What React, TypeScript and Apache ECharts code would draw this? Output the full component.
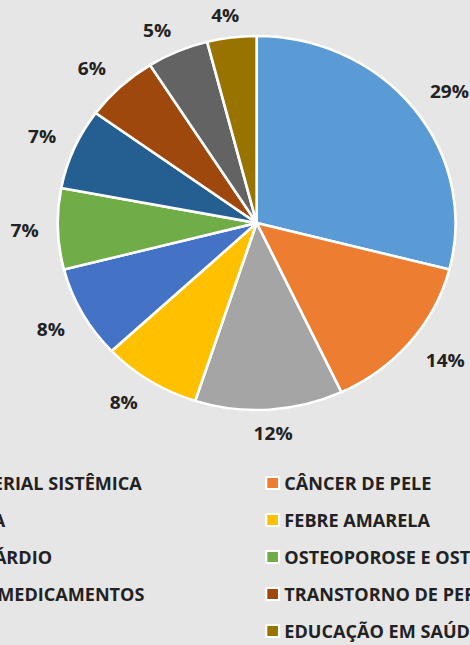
import React, { useEffect, useRef } from 'react';
import * as echarts from 'echarts';

const categories = [
  'HIPERTENSÃO ARTERIAL SISTÊMICA',
  'CÂNCER DE PELE',
  'DENGUE E MALÁRIA',
  'FEBRE AMARELA',
  'INFARTO DO MIOCÁRDIO',
  'OSTEOPOROSE E OSTEOPENIA',
  'USO RACIONAL DE MEDICAMENTOS',
  'TRANSTORNO DE PERSONALIDADE',
  'TUBERCULOSE',
  'EDUCAÇÃO EM SAÚDE',
];
const values = [29, 14, 12, 8, 8, 7, 7, 6, 5, 4];
const colors = [
  '#5B9BD5', '#ED7D31', '#A5A5A5', '#FFC000', '#4472C4',
  '#70AD47', '#255E91', '#9E480E', '#636363', '#997300',
];

const STRETCH = 1.064;
const OFFSET_X = -220;
const CENTER: [number, number] = [448, 223];
const RADIUS = 187;
const LABEL_GAP = 14;
const LABEL_HALF_H = 9;
const LABEL_EXTRA_W = 4;
const TEXT = '#222222';
const FONT = '"Open Sans", "Noto Sans", sans-serif';

const clamp1 = (v: number) => Math.max(-1, Math.min(1, v));

export default function App() {
  const ref = useRef<HTMLDivElement>(null);
  useEffect(() => {
    if (!ref.current) return;
    const chart = echarts.init(ref.current, undefined, { renderer: 'svg' });
    const pieData = categories.map((name, i) => ({ name, value: values[i] }));
    chart.setOption({
      animation: false,
      backgroundColor: 'transparent',
      color: colors,
      legend: {
        data: categories,
        left: 27,
        top: 474.5,
        width: 840,
        padding: 0,
        itemGap: 20,
        itemWidth: 12,
        itemHeight: 12,
        icon: 'rect',
        selectedMode: false,
        itemStyle: { borderColor: '#ffffff', borderWidth: 2 },
        textStyle: {
          fontFamily: FONT,
          fontWeight: 'bold',
          fontSize: 17,
          lineHeight: 17,
          width: 391,
          color: TEXT,
        },
      },
      series: [
        {
          type: 'pie',
          name: 'slices',
          center: CENTER,
          radius: RADIUS,
          startAngle: 90,
          clockwise: true,
          silent: true,
          data: pieData,
          itemStyle: { borderColor: '#ffffff', borderWidth: 2.5 },
          label: { show: false },
          labelLine: { show: false },
          emphasis: { disabled: true },
        },
        {
          type: 'pie',
          name: 'labels',
          center: CENTER,
          radius: [RADIUS, 249],
          startAngle: 90,
          clockwise: true,
          silent: true,
          percentPrecision: 0,
          legendHoverLink: false,
          data: pieData,
          itemStyle: { color: 'rgba(0,0,0,0)', borderWidth: 0 },
          label: {
            show: true,
            position: 'inside',
            formatter: '{d}%',
            fontFamily: FONT,
            fontWeight: 'bold',
            fontSize: 18,
            color: TEXT,
          },
          labelLine: { show: false },
          labelLayout: (params: any) => {
            const r = params.labelRect;
            const lx = r.x + r.width / 2;
            const ly = r.y + r.height / 2;
            const vx = lx - CENTER[0];
            const vy = ly - CENTER[1];
            const len = Math.sqrt(vx * vx + vy * vy) || 1;
            const ux = vx / len;
            const uy = vy / len;
            const d = RADIUS + LABEL_GAP;
            const tx = CENTER[0] + ux * d + clamp1(ux * 2) * (r.width / 2 + LABEL_EXTRA_W);
            const ty = CENTER[1] + uy * d + clamp1(uy * 2) * LABEL_HALF_H;
            return { dx: tx - lx, dy: ty - ly };
          },
          emphasis: { disabled: true },
        },
      ],
    });
    return () => chart.dispose();
  }, []);

  return (
    <div
      style={{
        position: 'fixed',
        left: 0,
        top: 0,
        width: 470,
        height: 645,
        overflow: 'hidden',
        background: '#e7e6e6',
      }}
    >
      <div
        ref={ref}
        style={{
          position: 'absolute',
          left: OFFSET_X,
          top: 0,
          width: 900,
          height: 645,
          transform: `scaleX(${STRETCH})`,
          transformOrigin: '0 0',
        }}
      />
    </div>
  );
}
